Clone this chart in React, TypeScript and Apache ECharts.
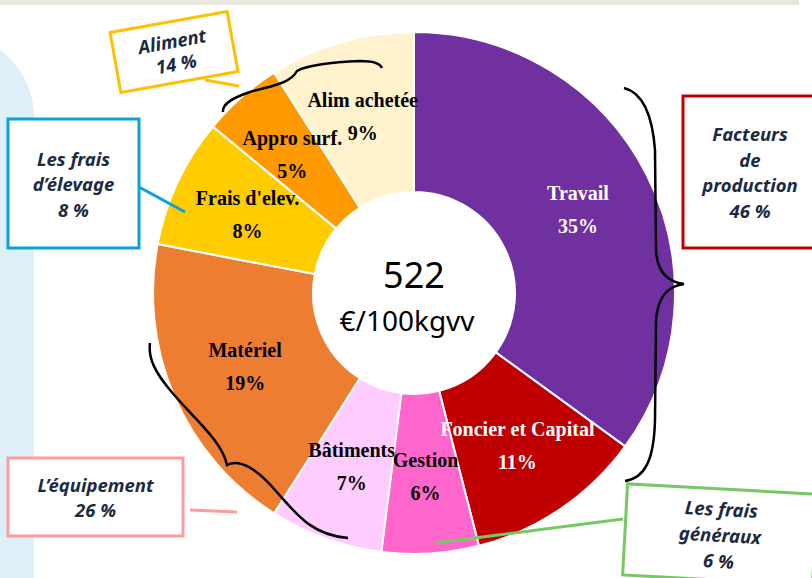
import React, { useEffect, useRef } from "react";
import * as echarts from "echarts";

const categories = [
  "Travail",
  "Foncier et Capital",
  "Gestion",
  "Bâtiments",
  "Matériel",
  "Frais d'elev.",
  "Appro surf.",
  "Alim achetée",
];
const shares = [35, 11, 6, 7, 19, 8, 5, 9];
const sliceColors = ["#7030A0", "#C00000", "#FF66CC", "#FFCCFF", "#ED7D31", "#FFCC00", "#FF9900", "#FFF2CC"];
const labelColors = ["#FFFFFF", "#FFFFFF", "#000000", "#000000", "#000000", "#000000", "#000000", "#000000"];
const centerTotal = "522";
const centerUnit = "€/100kgvv";

const groupTexts = [
  "Aliment\n14 %",
  "Les frais\nd’élevage\n8 %",
  "Facteurs\nde\nproduction\n46 %",
  "L’équipement\n26 %",
  "Les frais\ngénéraux\n6 %",
];

echarts.graphic.registerShape(
  "braceTop",
  echarts.graphic.extendPath(
    "M223,112 C222,104 232,98 250,92 C270,86 290,84 297,71 C305,66 330,62 360,61 C372,61 380,63 382,68",
    {}
  )
);
echarts.graphic.registerShape(
  "braceRight",
  echarts.graphic.extendPath(
    "M624,88 C640,92 652,110 655,150 L656,250 C657,272 668,282 684,284 C668,286 658,296 656,320 L655,420 C654,460 645,478 625,481",
    {}
  )
);
echarts.graphic.registerShape(
  "braceLeft",
  echarts.graphic.extendPath(
    "M150,343 C148,358 155,372 170,390 C190,415 222,440 227,465 C240,458 258,470 275,490 C295,512 310,535 348,538",
    {}
  )
);

const boxFont = {
  fontFamily: "Noto Sans",
  fontWeight: "bold",
  fontStyle: "italic",
  fontSize: 18.5,
  fill: "#1B2A41",
  align: "center",
  verticalAlign: "middle",
};

function box(cx: number, cy: number, w: number, h: number, rot: number, stroke: string, text: string, lh: number) {
  return {
    type: "group",
    x: cx,
    y: cy,
    rotation: rot,
    z: 100,
    children: [
      {
        type: "rect",
        z: 100,
        shape: { x: -w / 2, y: -h / 2, width: w, height: h },
        style: { fill: "#FFFFFF", stroke, lineWidth: 3 },
      },
      {
        type: "text",
        z: 101,
        x: 0,
        y: 0,
        style: { ...boxFont, text, lineHeight: lh },
      },
    ],
  };
}

function line(x1: number, y1: number, x2: number, y2: number, stroke: string) {
  return {
    type: "line",
    z: 100,
    shape: { x1, y1, x2, y2 },
    style: { stroke, lineWidth: 3 },
  };
}

export default function App() {
  const ref = useRef<HTMLDivElement>(null);
  useEffect(() => {
    if (!ref.current) return;
    const chart = echarts.init(ref.current, null, { renderer: "svg" });
    const braceStyle = { stroke: "#000000", fill: "none", lineWidth: 2.5 };
    chart.setOption({
      animation: false,
      backgroundColor: "#FFFFFF",
      graphic: [
        {
          type: "rect",
          z: 0,
          shape: { x: 0, y: 0, width: 799, height: 5 },
          style: { fill: "#E9E5DF" },
        },
        {
          type: "rect",
          z: 0,
          shape: { x: -140, y: 34, width: 174, height: 700, r: 83 },
          style: { fill: "#DDEFF8" },
        },
        { type: "braceTop", z: 90, x: 0, y: 0, style: braceStyle },
        { type: "braceRight", z: 90, x: 0, y: 0, style: braceStyle },
        { type: "braceLeft", z: 90, x: 0, y: 0, style: braceStyle },
        line(205, 80, 239, 86, "#FFC000"),
        line(139, 187, 185, 212, "#0BA2DA"),
        line(190, 510, 237, 512, "#FF9B9B"),
        line(435, 543, 623, 519, "#77C765"),
        box(174, 52, 119, 61, 0.178, "#FFC000", groupTexts[0], 23),
        box(73.5, 183.5, 131, 129, 0, "#0BA2DA", groupTexts[1], 25.5),
        box(750, 172, 134, 152, 0, "#C00000", groupTexts[2], 25.5),
        box(95.5, 497, 175, 78, 0, "#FF9B9B", groupTexts[3], 25),
        box(720, 534.5, 190, 91, -0.054, "#77C765", groupTexts[4], 26),
        {
          type: "text",
          z: 100,
          x: 414,
          y: 274,
          style: {
            text: centerTotal,
            fontFamily: "Noto Sans",
            fontSize: 36,
            fill: "#000000",
            align: "center",
            verticalAlign: "middle",
          },
        },
        {
          type: "text",
          z: 100,
          x: 407,
          y: 320,
          style: {
            text: centerUnit,
            fontFamily: "Noto Sans",
            fontSize: 28,
            fill: "#000000",
            align: "center",
            verticalAlign: "middle",
          },
        },
      ],
      series: [
        {
          type: "pie",
          z: 2,
          center: [414, 293],
          radius: [101, 261],
          startAngle: 90,
          clockwise: true,
          silent: true,
          avoidLabelOverlap: false,
          labelLayout: { hideOverlap: false },
          itemStyle: { borderColor: "#FFFFFF", borderWidth: 2 },
          label: {
            show: true,
            position: "inside",
            fontFamily: "Liberation Serif",
            fontWeight: "bold",
            fontSize: 20,
            lineHeight: 33,
            formatter: (p: any) => `${p.name}\n${p.value}%`,
          },
          labelLine: { show: false },
          data: categories.map((name, i) => ({
            name,
            value: shares[i],
            itemStyle: { color: sliceColors[i] },
            label: { color: labelColors[i] },
          })),
        },
      ],
    });
    return () => chart.dispose();
  }, []);
  return <div ref={ref} style={{ position: "fixed", left: 0, top: 0, width: 812, height: 578 }} />;
}
